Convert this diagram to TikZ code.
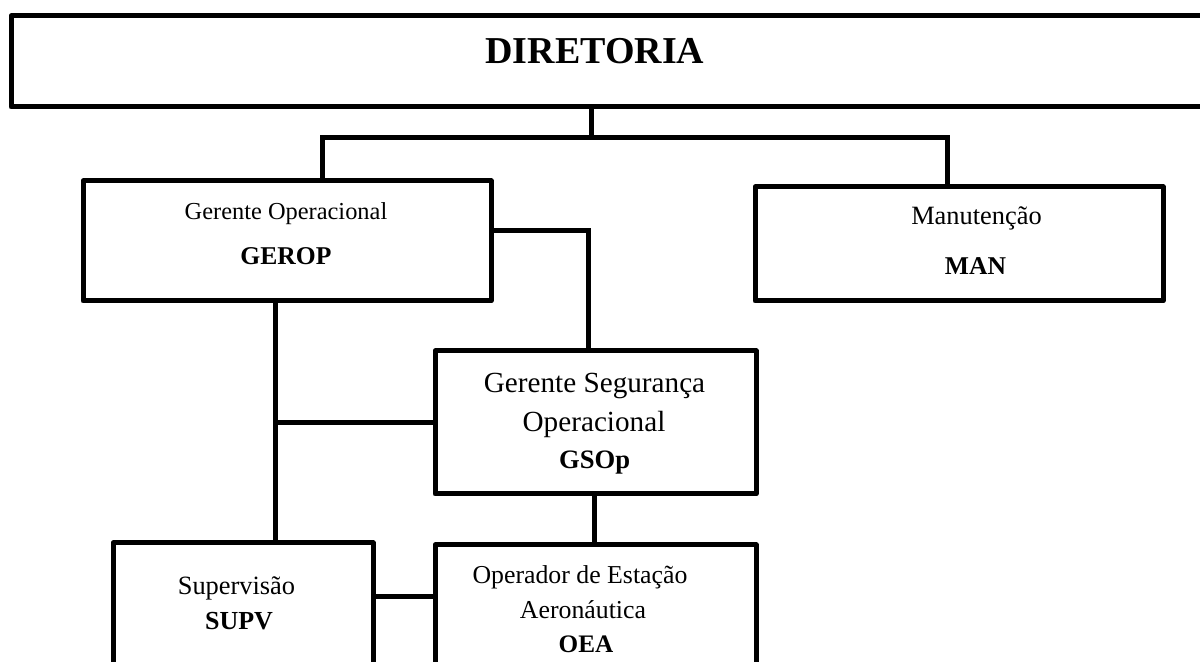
\documentclass[tikz,border=0pt]{standalone}
\usepackage{fontspec}
\setmainfont{Liberation Serif}
\newcommand\myfs[1]{\fontsize{#1}{#1}\selectfont}
\begin{document}
\begin{tikzpicture}[x=0.5pt,y=-0.5pt,
  box/.style={draw, line width=2.5pt, line join=round, rectangle, inner sep=0pt, outer sep=0pt},
  conn/.style={line width=2.5pt},
  txt/.style={anchor=base, inner sep=0pt, outer sep=0pt}]
\useasboundingbox (0,0) rectangle (1200,662);
\clip (0,0) rectangle (1200,662);

% boxes
\node[box, minimum width=599.5pt, minimum height=45.5pt] (dir)   at (610.5,61.5) {};
\node[box, minimum width=204pt,   minimum height=60pt]   (gerop) at (287,241) {};
\node[box, minimum width=204pt,   minimum height=57pt]   (man)   at (959,244) {};
\node[box, minimum width=160.5pt, minimum height=71.5pt] (gsop)  at (595.5,422.5) {};
\node[box, minimum width=130pt,   minimum height=78.5pt] (supv)  at (243,621.5) {};
\node[box, minimum width=160.5pt, minimum height=77.5pt] (oea)   at (595.5,622.5) {};

% texts
\node[txt] (tdir) at (595,64) {\myfs{19}\bfseries DIRETORIA};
\node[txt] (tgerop1) at (286,220) {\myfs{12.2}Gerente Operacional};
\node[txt] (tgerop2) at (286,265) {\myfs{12.8}\bfseries GEROP};
\node[txt] (tman1) at (976.5,225) {\myfs{13.2}Manutenção};
\node[txt] (tman2) at (975.5,275) {\myfs{12.8}\bfseries MAN};
\node[txt] (tgsop1) at (594.5,393) {\myfs{14.6}Gerente Segurança};
\node[txt] (tgsop2) at (594,432) {\myfs{14.6}Operacional};
\node[txt] (tgsop3) at (594.7,469) {\myfs{13.3}\bfseries GSOp};
\node[txt] (tsupv1) at (236.5,595) {\myfs{13.2}Supervisão};
\node[txt] (tsupv2) at (239,629) {\myfs{13}\bfseries SUPV};
\node[txt] (toea1) at (580,583) {\myfs{12.9}Operador de Estação};
\node[txt] (toea2) at (583,618) {\myfs{12.9}Aeronáutica};
\node[txt] (toea3) at (586,653) {\myfs{12.6}\bfseries OEA};

% junction coordinates
\coordinate (j)  at (591,138);
\coordinate (b1) at (322,138);
\coordinate (b2) at (947,138);
\coordinate (c)  at (588,231);
\coordinate (d)  at (275,423);
\coordinate (e)  at (594,520);
\coordinate (f)  at (404,596);

% connectors
\draw[conn] (dir.south -| j) -- (j);
\draw[conn] (b1 |- gerop.north) -- (b1) -- (b2) -- (b2 |- man.north);
\draw[conn] (c -| gerop.east) -- (c) -- (c |- gsop.north);
\draw[conn] (d |- gerop.south) -- (d |- supv.north);
\draw[conn] (d) -- (d -| gsop.west);
\draw[conn] (e |- gsop.south) -- (e |- oea.north);
\draw[conn] (f -| supv.east) -- (f -| oea.west);
\end{tikzpicture}
\end{document}
